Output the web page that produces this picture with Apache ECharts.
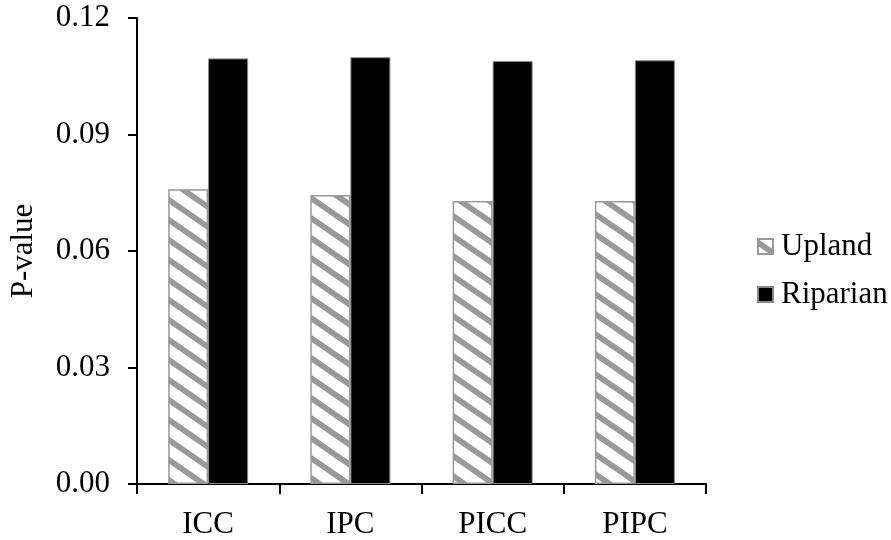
<!DOCTYPE html>
<html>
<head>
<meta charset="utf-8">
<script src="https://cdn.jsdelivr.net/npm/echarts@6/dist/echarts.min.js"></script>
<style>
  html, body { margin: 0; padding: 0; background: #ffffff; }
  #chart { width: 891px; height: 540px; }
</style>
</head>
<body>
<div id="chart"></div>
<script>
// Categories and P-values per site type
const categories = ['ICC', 'IPC', 'PICC', 'PIPC'];
const uplandValues = [0.0759, 0.0744, 0.0729, 0.0729];
const riparianValues = [0.1096, 0.1099, 0.1089, 0.1091];
const seriesNames = ['Upland', 'Riparian'];

// Diagonal hatch tile for the Upland bars
function makeHatch() {
  const W = 29, H = 20, t = 7;
  const c = document.createElement('canvas');
  c.width = W; c.height = H;
  const ctx = c.getContext('2d');
  ctx.fillStyle = '#ffffff';
  ctx.fillRect(0, 0, W, H);
  ctx.fillStyle = '#999999';
  for (let k = -2; k <= 1; k++) {
    ctx.beginPath();
    ctx.moveTo(0, k * H);
    ctx.lineTo(W, k * H + H);
    ctx.lineTo(W, k * H + H + t);
    ctx.lineTo(0, k * H + t);
    ctx.closePath();
    ctx.fill();
  }
  return c;
}

const font = 'Liberation Serif, Times New Roman, serif';
const chart = echarts.init(document.getElementById('chart'), null, { renderer: 'canvas' });

chart.setOption({
  animation: false,
  backgroundColor: '#ffffff',
  textStyle: { fontFamily: font, color: '#000' },
  grid: { left: 134, right: 185, top: 18, bottom: 56, containLabel: false },
  legend: {
    orient: 'vertical',
    left: 757,
    top: 231,
    padding: 0,
    icon: 'rect',
    itemWidth: 15,
    itemHeight: 15,
    itemGap: 17,
    data: seriesNames,
    textStyle: { fontFamily: font, fontSize: 31, color: '#000', padding: [0, 0, 0, 3] }
  },
  xAxis: {
    type: 'category',
    data: categories,
    axisLine: { lineStyle: { color: '#000', width: 2 } },
    axisTick: { show: true, length: 10, lineStyle: { color: '#000', width: 2 } },
    axisLabel: { fontFamily: font, fontSize: 31, color: '#000', margin: 25 },
    splitLine: { show: false }
  },
  yAxis: {
    type: 'value',
    min: 0,
    max: 0.12,
    interval: 0.03,
    name: 'P-value',
    nameLocation: 'middle',
    nameGap: 98,
    nameRotate: 90,
    nameTextStyle: { fontFamily: font, fontSize: 31, color: '#000' },
    axisLine: { show: true, lineStyle: { color: '#000', width: 2 } },
    axisTick: { show: true, length: 9, lineStyle: { color: '#000', width: 2 } },
    axisLabel: {
      fontFamily: font, fontSize: 31, color: '#000', margin: 27,
      formatter: v => v.toFixed(2)
    },
    splitLine: { show: false }
  },
  series: [
    {
      name: seriesNames[0],
      type: 'bar',
      data: uplandValues,
      barWidth: 40,
      barGap: '0%',
      itemStyle: {
        color: { image: makeHatch(), repeat: 'repeat' },
        borderColor: '#999999',
        borderWidth: 1.5
      }
    },
    {
      name: seriesNames[1],
      type: 'bar',
      data: riparianValues,
      barWidth: 40,
      barGap: '0%',
      itemStyle: {
        color: '#000000',
        borderColor: '#888888',
        borderWidth: 1
      }
    }
  ]
});
</script>
</body>
</html>
